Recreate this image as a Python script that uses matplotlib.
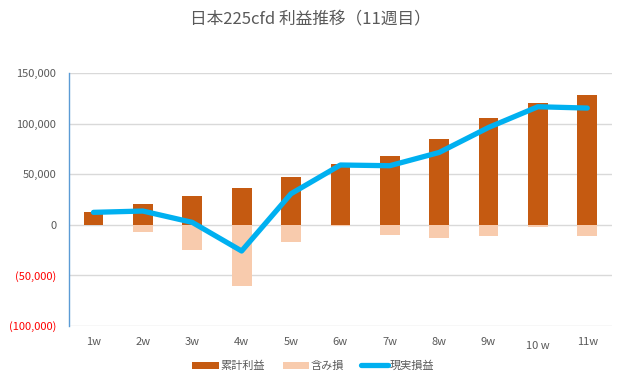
import numpy as np
import matplotlib.pyplot as plt
import matplotlib.transforms as mtransforms
from matplotlib.ticker import FuncFormatter

plt.rcParams['font.family'] = ['Noto Sans CJK JP', 'DejaVu Sans']

# data
weeks = ['1w', '2w', '3w', '4w', '5w', '6w', '7w', '8w', '9w', '10 w', '11w']
cumulative = [12800, 20700, 28000, 35900, 47400, 60300, 68200, 85000, 105700, 119900, 127900]
unrealized = [0, -7600, -25400, -61000, -17500, -1700, -10600, -13500, -11500, -2600, -11500]
realized = [12200, 13500, 2300, -26000, 30600, 59000, 58300, 71400, 96100, 116600, 115300]

fig = plt.figure(figsize=(6.2, 3.82), dpi=100)
ax = fig.add_axes([0.111, 0.147, 0.876, 0.662])

x = np.arange(len(weeks))
b1 = ax.bar(x, cumulative, width=0.4, color='#C55A11', label='累計利益', zorder=2)
b2 = ax.bar(x, unrealized, width=0.4, color='#F8CBAD', label='含み損', zorder=2)
l1, = ax.plot(x, realized, color='#00B0F0', linewidth=3.8, label='現実損益', zorder=3,
              solid_capstyle='round', solid_joinstyle='round')

ax.set_ylim(-100000, 150000)
ax.set_yticks(np.arange(-100000, 150001, 50000))
ax.set_xlim(-0.5, len(weeks) - 0.5)
ax.set_xticks(x)
ax.set_xticklabels(weeks)


def fmt(v, pos):
    if v < 0:
        return '({:,.0f})'.format(-v)
    return '{:,.0f}'.format(v)


ax.yaxis.set_major_formatter(FuncFormatter(fmt))
ax.tick_params(axis='both', length=0, labelsize=8, colors='#595959')
ax.tick_params(axis='y', pad=9)
ax.tick_params(axis='x', pad=8)
for lab, v in zip(ax.get_yticklabels(), ax.get_yticks()):
    lab.set_color('#FF0000' if v < 0 else '#595959')
# the 10w label sits a bit lower
lbl = ax.get_xticklabels()[9]
lbl.set_transform(lbl.get_transform() + mtransforms.ScaledTranslation(0, -3 / 72, fig.dpi_scale_trans))

ax.grid(axis='y', color='#D9D9D9', linewidth=1, zorder=0)
ax.set_axisbelow(True)
for s in ['top', 'right', 'bottom']:
    ax.spines[s].set_visible(False)
ax.spines['left'].set_color('#5B9BD5')
ax.spines['left'].set_linewidth(1)

fig.text(0.5, 0.948, '日本225cfd 利益推移（11週目）', ha='center', va='center',
         fontsize=12, color='#595959')

fig.legend([b1, b2, l1], ['累計利益', '含み損', '現実損益'],
           loc='center', bbox_to_anchor=(0.505, 0.042), ncol=3, frameon=False,
           fontsize=8, labelcolor='#595959', handlelength=2.4, handleheight=0.6,
           columnspacing=1.6, handletextpad=0.1)

fig.savefig('out.png', dpi=100)
